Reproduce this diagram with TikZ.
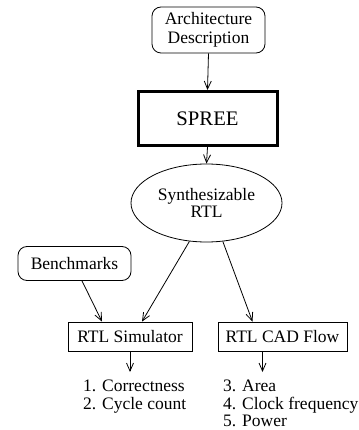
\documentclass[tikz,border=0pt]{standalone}
\usepackage{fontspec}
\setmainfont{Liberation Serif}
\usetikzlibrary{shapes.geometric,arrows.meta}
\begin{document}
\begin{tikzpicture}[x=1pt,y=-1pt,
  every node/.style={font=\fontsize{17.5}{17.5}\selectfont, inner sep=0pt, align=center},
  conn/.style={draw, line width=0.8pt, -{Straight Barb[length=8pt,width=7pt]}},
  rbox/.style={draw, line width=0.8pt, rounded corners=9pt},
  pbox/.style={draw, line width=0.8pt},
  bigbox/.style={draw, line width=3pt, font=\fontsize{20.7}{20.7}\selectfont},
  oval/.style={draw, ellipse, line width=0.8pt},
  res/.style={align=left, anchor=north west}]
\useasboundingbox (0,0) rectangle (358,430);
\node[rbox, minimum width=113pt, minimum height=46pt, font=\fontsize{17.5}{19}\selectfont] (arch) at (208.5,30) {Architecture\\Description};
\node[bigbox, minimum width=139pt, minimum height=54pt] (spree) at (207.5,118.5) {SPREE};
\node[oval, minimum width=151pt, minimum height=78pt] (rtl) at (206.5,203) {Synthesizable\\RTL};
\node[rbox, minimum width=113pt, minimum height=34pt] (bench) at (74.5,263.5) {Benchmarks};
\node[pbox, minimum width=124pt, minimum height=29pt] (sim) at (130,336.5) {RTL Simulator};
\node[pbox, minimum width=129pt, minimum height=29pt] (cad) at (282.5,336.5) {RTL CAD Flow};
\node[res] (res1) at (83,380) {1. Correctness\\2. Cycle count};
\node[res] (res2) at (223,380) {3. Area\\4. Clock frequency\\5. Power};
\draw[conn] (arch.south) -- (spree.north);
\draw[conn] (spree.south) -- (rtl.north);
\draw[conn] ([xshift=7.5pt]bench.south) -- ([xshift=-28pt]sim.north);
\draw[conn] (rtl.246) -- ([xshift=12pt]sim.north);
\draw[conn] (rtl.293) -- ([xshift=-30pt]cad.north);
\draw[conn] (sim.south) -- (sim.south |- res1.north) [shorten >=8pt];
\draw[conn, shorten >=8pt] ([xshift=-20pt]cad.south) -- ([xshift=-20pt]cad.south |- res2.north);
\end{tikzpicture}
\end{document}
